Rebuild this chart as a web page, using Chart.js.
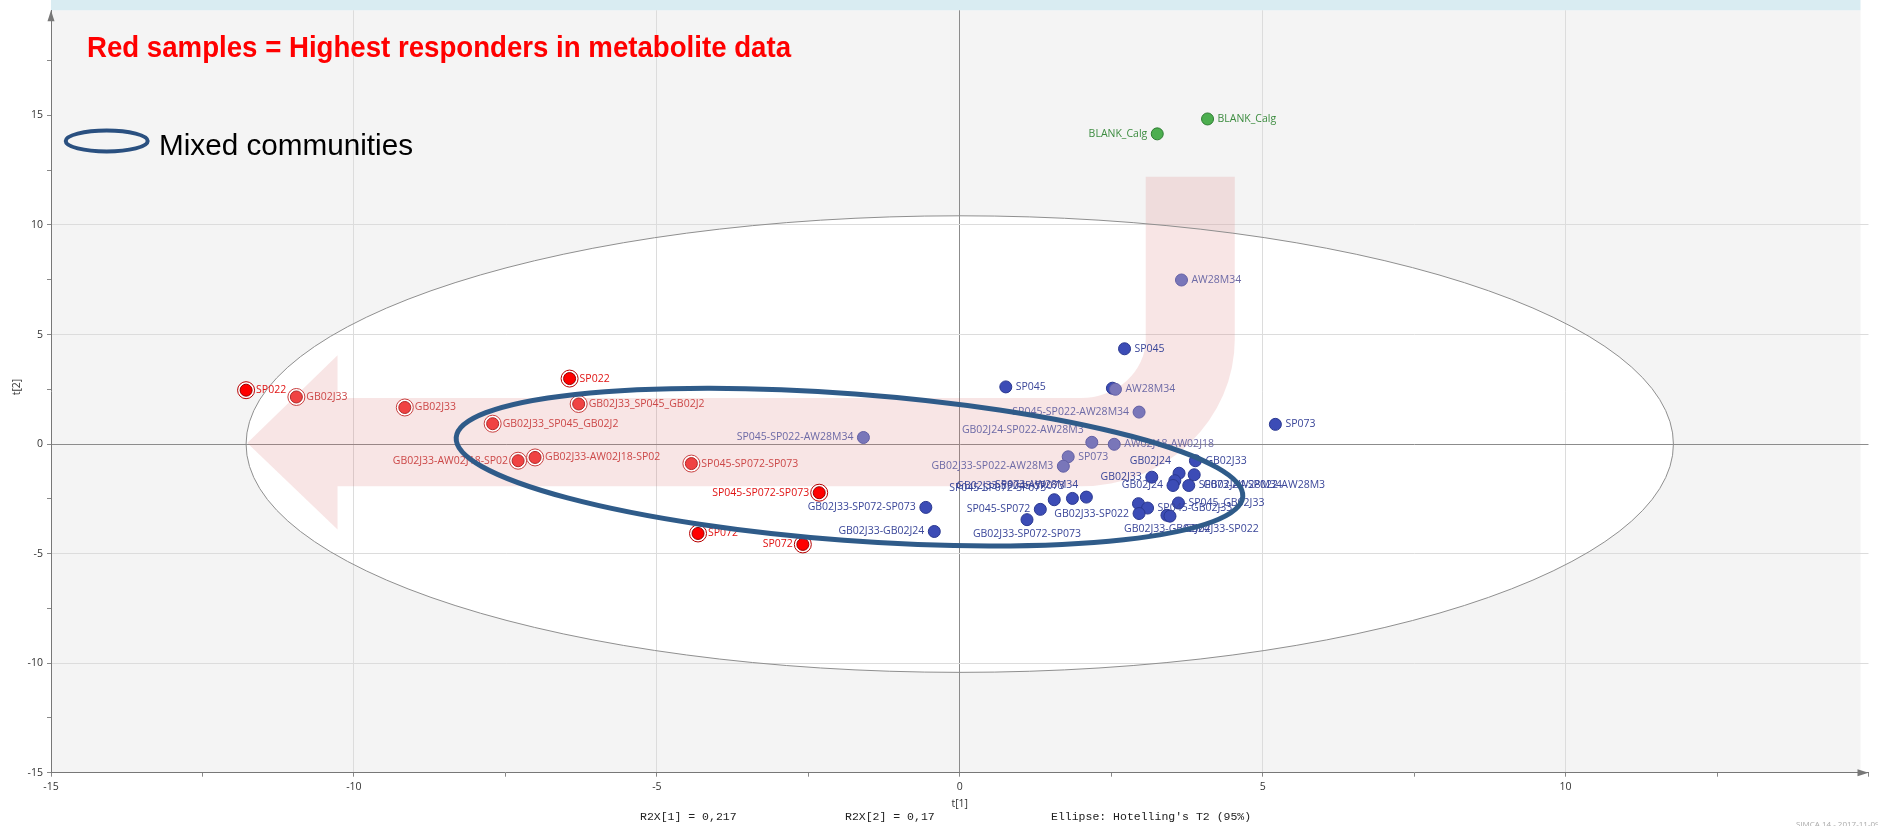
<!DOCTYPE html>
<html>
<head>
<meta charset="utf-8">
<script src="https://cdn.jsdelivr.net/npm/chart.js@4.4.0/dist/chart.umd.min.js"></script>
<style>
  html, body { margin: 0; padding: 0; background: #fff; }
  canvas { display: block; }
</style>
</head>
<body>
<canvas id="grafico" width="1878" height="826"></canvas>
<script>
// valores (t[1], t[2])
const xTicks = [-15, -10, -5, 0, 5, 10];
const yTicks = [-15, -10, -5, 0, 5, 10, 15];

const rojoNombres = ["SP022", "SP022", "SP045-SP072-SP073", "SP072", "SP072"];
const rojoX = [-11.78, -6.44, -2.32, -4.32, -2.59];
const rojoY = [2.46, 2.99, -2.22, -4.08, -4.58];

const rosaNombres = ["GB02J33", "GB02J33", "GB02J33_SP045_GB02J2", "GB02J33_SP045_GB02J2",
  "GB02J33-AW02J18-SP02", "GB02J33-AW02J18-SP02", "SP045-SP072-SP073"];
const rosaX = [-10.95, -9.16, -6.29, -7.71, -7.29, -7.01, -4.43];
const rosaY = [2.15, 1.67, 1.83, 0.93, -0.76, -0.61, -0.89];

const moradoNombres = ["AW28M34", "AW28M34", "SP045-SP022-AW28M34", "SP045-SP022-AW28M34",
  "GB02J24-SP022-AW28M3", "AW02J18-AW02J18", "SP073", "GB02J33-SP022-AW28M3"];
const moradoX = [3.66, 2.57, -1.59, 2.96, 2.18, 2.55, 1.79, 1.71];
const moradoY = [7.49, 2.50, 0.30, 1.46, 0.08, -0.01, -0.58, -1.01];

const azulNombres = ["SP045", "SP045", "", "SP073", "GB02J33-SP072-SP073", "GB02J33-GB02J24",
  "GB02J33", "GB02J33", "GB02J24", "GB02J24-SP022-AW28M3", "", "GB02J24", "SP073-AW28M34",
  "SP045-SP072-SP073", "GB02J33-SP045-SP073", "SP073-AW28M34", "SP045-SP072", "GB02J33-SP072-SP073",
  "", "SP045-GB02J33", "GB02J33-SP022", "SP045_GB02J33", "GB02J33-GB02J24", "GB02J33-SP022"];
const azulX = [0.76, 2.72, 2.52, 5.21, -0.56, -0.42, 3.89, 3.17, 3.62, 3.87, 3.55, 3.52, 3.78,
  1.56, 1.86, 2.09, 1.33, 1.11, 2.95, 3.10, 2.96, 3.61, 3.42, 3.47];
const azulY = [2.61, 4.35, 2.55, 0.90, -2.89, -3.99, -0.76, -1.51, -1.33, -1.40, -1.67, -1.89, -1.89,
  -2.54, -2.48, -2.42, -2.98, -3.45, -2.72, -2.92, -3.17, -2.69, -3.25, -3.29];

const verdeNombres = ["BLANK_Calg", "BLANK_Calg"];
const verdeX = [4.09, 3.26];
const verdeY = [14.84, 14.16];

// lado de la etiqueta de cada punto
const rojoLado = ["r", "r", "l", "r", "l"];
const rosaLado = ["r", "r", "r", "r", "l", "r", "r"];
const moradoLado = ["r", "r", "l", "l", "tl", "r", "r", "l"];
const azulLado = ["r", "r", "", "r", "l", "l", "r", "l", "tl", "rb", "", "l", "r",
  "tl", "tl", "tl", "l", "b", "", "r", "l", "r", "b", "br"];
const verdeLado = ["r", "l"];

// elipse de Hotelling (semiejes) y elipse "Mixed communities"
const hotellingA = 11.78;
const hotellingB = 10.42;

const puntos = (xs, ys) => xs.map((x, i) => ({ x: x, y: ys[i] }));

const grupos = [
  { nombres: rojoNombres, lados: rojoLado, color: "#e01414", idx: 1 },
  { nombres: rosaNombres, lados: rosaLado, color: "#cc4848", idx: 3 },
  { nombres: moradoNombres, lados: moradoLado, color: "#6d6aa6", idx: 4 },
  { nombres: azulNombres, lados: azulLado, color: "#3a4699", idx: 5 },
  { nombres: verdeNombres, lados: verdeLado, color: "#3c8c3f", idx: 6 }
];

// texto ajustado a un ancho
function textoAjustado(ctx, texto, x, y, ancho, font, color) {
  ctx.save();
  ctx.font = font;
  ctx.fillStyle = color;
  ctx.textBaseline = "alphabetic";
  const w = ctx.measureText(texto).width;
  ctx.translate(x, y);
  ctx.scale(ancho / w, 1);
  ctx.fillText(texto, 0, 0);
  ctx.restore();
}

const decoracion = {
  id: "decoracion",
  beforeDraw(chart) {
    const { ctx, chartArea: a, scales } = chart;
    const sx = scales.x, sy = scales.y;
    ctx.save();
    ctx.fillStyle = "#ffffff";
    ctx.fillRect(0, 0, chart.width, chart.height);
    ctx.fillStyle = "#f4f4f4";
    ctx.fillRect(a.left, a.top, a.right - a.left - 8, a.bottom - a.top);
    const cx = sx.getPixelForValue(0), cy = sy.getPixelForValue(0);
    ctx.beginPath();
    ctx.ellipse(cx, cy, sx.getPixelForValue(hotellingA) - cx, cy - sy.getPixelForValue(hotellingB), 0, 0, Math.PI * 2);
    ctx.fillStyle = "#ffffff";
    ctx.fill();
    ctx.fillStyle = "#d9ecf2";
    ctx.fillRect(a.left, 0, a.right - a.left - 8, a.top);
    ctx.restore();
  },
  beforeDatasetsDraw(chart) {
    const { ctx, scales } = chart;
    const px = v => scales.x.getPixelForValue(v);
    const py = v => scales.y.getPixelForValue(v);
    ctx.save();
    // flecha rosada
    const cx = px(2.0), cy = py(4.8);
    ctx.beginPath();
    ctx.moveTo(px(-11.76), py(0.05));
    ctx.lineTo(px(-10.27), py(4.05));
    ctx.lineTo(px(-10.27), py(2.1));
    ctx.lineTo(cx, py(2.1));
    ctx.ellipse(cx, cy, px(3.07) - cx, py(2.1) - cy, 0, Math.PI / 2, 0, true);
    ctx.lineTo(px(3.07), py(12.2));
    ctx.lineTo(px(4.54), py(12.2));
    ctx.lineTo(px(4.54), cy);
    ctx.ellipse(cx, cy, px(4.54) - cx, py(-1.93) - cy, 0, 0, Math.PI / 2, false);
    ctx.lineTo(px(-10.27), py(-1.93));
    ctx.lineTo(px(-10.27), py(-3.9));
    ctx.closePath();
    ctx.fillStyle = "rgba(214, 110, 110, 0.18)";
    ctx.fill();
    // contorno Hotelling
    const ox = px(0), oy = py(0);
    ctx.beginPath();
    ctx.ellipse(ox, oy, px(hotellingA) - ox, oy - py(hotellingB), 0, 0, Math.PI * 2);
    ctx.strokeStyle = "#8f8f8f";
    ctx.lineWidth = 1;
    ctx.stroke();
    ctx.restore();
  },
  afterDatasetsDraw(chart) {
    const { ctx, chartArea: a, scales } = chart;
    const px = v => scales.x.getPixelForValue(v);
    const py = v => scales.y.getPixelForValue(v);
    ctx.save();

    // etiquetas de los puntos
    ctx.font = '10.5px "Open Sans"';
    ctx.textBaseline = "middle";
    grupos.forEach(g => {
      const meta = chart.getDatasetMeta(g.idx);
      ctx.fillStyle = g.color;
      g.nombres.forEach((n, i) => {
        if (!n) return;
        const p = meta.data[i];
        const lado = g.lados[i];
        if (lado === "r") { ctx.textAlign = "left"; ctx.fillText(n, p.x + 10, p.y); }
        else if (lado === "l") { ctx.textAlign = "right"; ctx.fillText(n, p.x - 10, p.y); }
        else if (lado === "tl") { ctx.textAlign = "right"; ctx.fillText(n, p.x - 8, p.y - 12); }
        else if (lado === "rb") { ctx.textAlign = "left"; ctx.fillText(n, p.x + 9, p.y + 10); }
        else if (lado === "b") { ctx.textAlign = "center"; ctx.fillText(n, p.x, p.y + 14); }
        else if (lado === "br") { ctx.textAlign = "left"; ctx.fillText(n, p.x + 14, p.y + 13); }
      });
    });

    // elipse "Mixed communities"
    const ex = px(-1.82), ey = py(-1.05);
    ctx.beginPath();
    ctx.ellipse(ex, ey, px(6.51) - px(0), py(0) - py(3.35), 4.3 * Math.PI / 180, 0, Math.PI * 2);
    ctx.strokeStyle = "#2f5b89";
    ctx.lineWidth = 5;
    ctx.stroke();

    // flechas de los ejes
    ctx.fillStyle = "#777";
    ctx.beginPath();
    ctx.moveTo(a.left, a.top);
    ctx.lineTo(a.left - 3.5, a.top + 11);
    ctx.lineTo(a.left + 3.5, a.top + 11);
    ctx.closePath();
    ctx.fill();
    ctx.beginPath();
    ctx.moveTo(a.right, a.bottom);
    ctx.lineTo(a.right - 11, a.bottom - 3.5);
    ctx.lineTo(a.right - 11, a.bottom + 3.5);
    ctx.closePath();
    ctx.fill();

    // títulos de ejes
    ctx.fillStyle = "#333";
    ctx.font = '10.5px "Open Sans"';
    ctx.textAlign = "center";
    ctx.textBaseline = "middle";
    ctx.fillText("t[1]", px(0), 804);
    ctx.save();
    ctx.translate(17, 387);
    ctx.rotate(-Math.PI / 2);
    ctx.fillText("t[2]", 0, 0);
    ctx.restore();

    // textos inferiores
    ctx.fillStyle = "#222";
    ctx.font = '11.5px "Liberation Mono"';
    ctx.textAlign = "left";
    ctx.fillText("R2X[1] = 0,217", 640, 817);
    ctx.fillText("R2X[2] = 0,17", 845, 817);
    ctx.fillText("Ellipse: Hotelling's T2 (95%)", 1051, 817);
    ctx.fillStyle = "#aaa";
    ctx.font = '8px "Open Sans"';
    ctx.fillText("SIMCA 14 - 2017-11-09 10:01:2", 1796, 825);

    // anotaciones
    textoAjustado(ctx, "Red samples = Highest responders in metabolite data", 87, 57, 704,
      'bold 29px "Liberation Sans Narrow", "Liberation Sans"', "#ff0000");
    ctx.beginPath();
    ctx.ellipse(106.7, 141, 41, 10.5, 0, 0, Math.PI * 2);
    ctx.strokeStyle = "#2a5080";
    ctx.lineWidth = 4;
    ctx.stroke();
    textoAjustado(ctx, "Mixed communities", 159, 155, 254, '30px "Liberation Sans"', "#000");

    ctx.restore();
  }
};

const colorGrid = c => {
  const v = c.tick ? c.tick.value : null;
  if (v === 0) return "#8c8c8c";
  if (v === -15 || v === 15) return "rgba(0,0,0,0)";
  if (v !== null && v % 5 === 0) return "#dcdcdc";
  return "rgba(0,0,0,0)";
};

const ctx = document.getElementById("grafico").getContext("2d");
new Chart(ctx, {
  type: "scatter",
  data: {
    datasets: [
      { data: puntos(rojoX, rojoY), pointRadius: 8.5, backgroundColor: "#ffffff", borderColor: "#b80000", borderWidth: 1, order: 7 },
      { data: puntos(rojoX, rojoY), pointRadius: 6, backgroundColor: "#ff0000", borderColor: "#990000", borderWidth: 1, order: 6 },
      { data: puntos(rosaX, rosaY), pointRadius: 8.5, backgroundColor: "#ffffff", borderColor: "#c94040", borderWidth: 1, order: 5 },
      { data: puntos(rosaX, rosaY), pointRadius: 6, backgroundColor: "#f04343", borderColor: "#b02a2a", borderWidth: 1, order: 4 },
      { data: puntos(moradoX, moradoY), pointRadius: 6, backgroundColor: "#7976b9", borderColor: "#6360a5", borderWidth: 1, order: 2 },
      { data: puntos(azulX, azulY), pointRadius: 6, backgroundColor: "#3c4cb6", borderColor: "#2a3891", borderWidth: 1, order: 3 },
      { data: puntos(verdeX, verdeY), pointRadius: 6, backgroundColor: "#4cae4f", borderColor: "#2e7d32", borderWidth: 1, order: 1 }
    ]
  },
  options: {
    responsive: false,
    animation: false,
    devicePixelRatio: 1,
    layout: { padding: { top: 7, right: 3.5, left: 0, bottom: 0 } },
    plugins: { legend: { display: false }, tooltip: { enabled: false } },
    scales: {
      x: {
        type: "linear", min: -15, max: 15,
        ticks: {
          stepSize: 2.5, padding: 4, color: "#333", font: { family: "Open Sans", size: 10.5 },
          maxRotation: 0, autoSkip: false,
          callback: v => (xTicks.includes(v) ? String(v) : "")
        },
        grid: { color: colorGrid, tickLength: 4, tickColor: "#888" },
        border: { color: "#777", width: 1 },
        afterFit: s => { s.height = 53.3; }
      },
      y: {
        type: "linear", min: -15, max: 19.8,
        ticks: {
          stepSize: 2.5, padding: 4, color: "#333", font: { family: "Open Sans", size: 10.5 },
          includeBounds: false, autoSkip: false,
          callback: v => (yTicks.includes(v) ? String(v) : "")
        },
        grid: { color: colorGrid, tickLength: 4, tickColor: "#888" },
        border: { color: "#777", width: 1 },
        afterFit: s => { s.width = 51; }
      }
    }
  },
  plugins: [decoracion]
});
</script>
</body>
</html>
